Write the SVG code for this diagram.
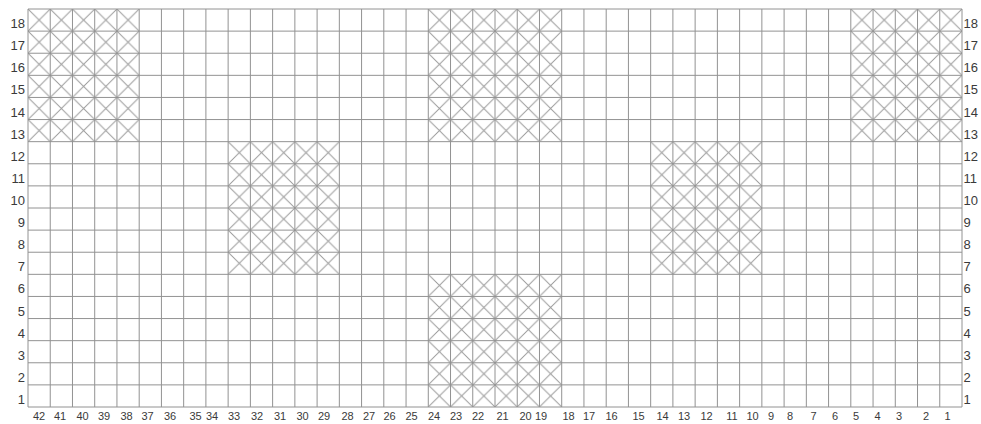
<svg xmlns="http://www.w3.org/2000/svg" width="981" height="424" viewBox="0 0 981 424">
<style>
.grid{fill:none;stroke:#929292;stroke-width:1}
.rl{font-family:"Liberation Sans",Arial,sans-serif;font-size:13px;fill:#3a3a3a}
.cl{font-family:"Liberation Sans",Arial,sans-serif;font-size:11px;fill:#3a3a3a;text-anchor:middle}
.x{fill:url(#xp)}
</style>
<defs>
<pattern id="xp" patternUnits="userSpaceOnUse" x="28" y="9" width="22.238" height="22.111">
<path d="M0 0L22.238 22.111M22.238 0L0 22.111" stroke="#9a9a9a" stroke-width="1" fill="none"/>
</pattern>
</defs>
<rect width="981" height="424" fill="#fff"/>
<g id="hatched">
<rect class="x" x="28" y="9" width="111.19" height="132.67"/>
<rect class="x" x="228.14" y="141.67" width="111.19" height="132.66"/>
<rect class="x" x="428.29" y="9" width="133.42" height="132.67"/>
<rect class="x" x="428.29" y="274.33" width="133.42" height="132.67"/>
<rect class="x" x="650.67" y="141.67" width="111.19" height="132.66"/>
<rect class="x" x="850.81" y="9" width="111.19" height="132.67"/>
</g>
<g id="grid" class="grid">
<path d="M28 9V407M50.24 9V407M72.48 9V407M94.71 9V407M116.95 9V407M139.19 9V407M161.43 9V407M183.67 9V407M205.9 9V407M228.14 9V407M250.38 9V407M272.62 9V407M294.86 9V407M317.1 9V407M339.33 9V407M361.57 9V407M383.81 9V407M406.05 9V407M428.29 9V407M450.52 9V407M472.76 9V407M495 9V407M517.24 9V407M539.48 9V407M561.71 9V407M583.95 9V407M606.19 9V407M628.43 9V407M650.67 9V407M672.9 9V407M695.14 9V407M717.38 9V407M739.62 9V407M761.86 9V407M784.1 9V407M806.33 9V407M828.57 9V407M850.81 9V407M873.05 9V407M895.29 9V407M917.52 9V407M939.76 9V407M962 9V407"/>
<path d="M28 9H962M28 31.11H962M28 53.22H962M28 75.33H962M28 97.44H962M28 119.56H962M28 141.67H962M28 163.78H962M28 185.89H962M28 208H962M28 230.11H962M28 252.22H962M28 274.33H962M28 296.44H962M28 318.56H962M28 340.67H962M28 362.78H962M28 384.89H962M28 407H962"/>
</g>
<g id="row-labels-left" class="rl" text-anchor="end">
<text x="25" y="28.1">18</text>
<text x="25" y="50.2">17</text>
<text x="25" y="72.3">16</text>
<text x="25" y="94.4">15</text>
<text x="25" y="116.5">14</text>
<text x="25" y="138.6">13</text>
<text x="25" y="160.7">12</text>
<text x="25" y="182.8">11</text>
<text x="25" y="204.9">10</text>
<text x="25" y="227.1">9</text>
<text x="25" y="249.2">8</text>
<text x="25" y="271.3">7</text>
<text x="25" y="293.4">6</text>
<text x="25" y="315.5">5</text>
<text x="25" y="337.6">4</text>
<text x="25" y="359.7">3</text>
<text x="25" y="381.8">2</text>
<text x="25" y="403.9">1</text>
</g>
<g id="row-labels-right" class="rl">
<text x="963.5" y="28.1">18</text>
<text x="963.5" y="50.2">17</text>
<text x="963.5" y="72.3">16</text>
<text x="963.5" y="94.4">15</text>
<text x="963.5" y="116.5">14</text>
<text x="963.5" y="138.6">13</text>
<text x="963.5" y="160.7">12</text>
<text x="963.5" y="182.8">11</text>
<text x="963.5" y="204.9">10</text>
<text x="963.5" y="227.1">9</text>
<text x="963.5" y="249.2">8</text>
<text x="963.5" y="271.3">7</text>
<text x="963.5" y="293.4">6</text>
<text x="963.5" y="315.5">5</text>
<text x="963.5" y="337.6">4</text>
<text x="963.5" y="359.7">3</text>
<text x="963.5" y="381.8">2</text>
<text x="963.5" y="403.9">1</text>
</g>
<g id="column-labels" class="cl">
<text x="39" y="420">42</text>
<text x="60" y="420">41</text>
<text x="82.5" y="420">40</text>
<text x="104" y="420">39</text>
<text x="126.5" y="420">38</text>
<text x="147.5" y="420">37</text>
<text x="170" y="420">36</text>
<text x="195.5" y="420">35</text>
<text x="212" y="420">34</text>
<text x="234" y="420">33</text>
<text x="257" y="420">32</text>
<text x="280" y="420">31</text>
<text x="302.5" y="420">30</text>
<text x="324" y="420">29</text>
<text x="347.5" y="420">28</text>
<text x="369" y="420">27</text>
<text x="389.5" y="420">26</text>
<text x="411.5" y="420">25</text>
<text x="434" y="420">24</text>
<text x="456" y="420">23</text>
<text x="478" y="420">22</text>
<text x="502.5" y="420">21</text>
<text x="525.5" y="420">20</text>
<text x="541" y="420">19</text>
<text x="568.5" y="420">18</text>
<text x="589" y="420">17</text>
<text x="611.5" y="420">16</text>
<text x="638.5" y="420">15</text>
<text x="662.5" y="420">14</text>
<text x="684" y="420">13</text>
<text x="706.5" y="420">12</text>
<text x="732" y="420">11</text>
<text x="752.5" y="420">10</text>
<text x="771" y="420">9</text>
<text x="790" y="420">8</text>
<text x="813.5" y="420">7</text>
<text x="835" y="420">6</text>
<text x="856" y="420">5</text>
<text x="877.5" y="420">4</text>
<text x="899" y="420">3</text>
<text x="926" y="420">2</text>
<text x="947.5" y="420">1</text>
</g>
</svg>
